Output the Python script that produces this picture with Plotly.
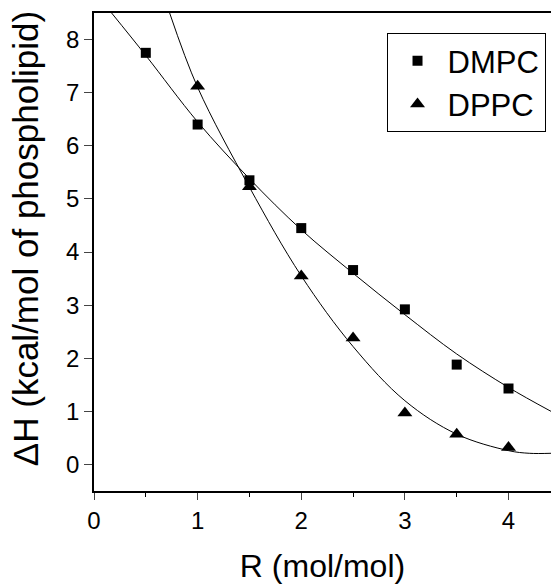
import plotly.graph_objects as go

# Measured data points
dmpc_x = [0.5, 1.0, 1.5, 2.0, 2.5, 3.0, 3.5, 4.0]
dmpc_y = [7.75, 6.40, 5.35, 4.45, 3.66, 2.92, 1.88, 1.43]
dppc_x = [1.0, 1.5, 2.0, 2.5, 3.0, 3.5, 4.0]
dppc_y = [7.12, 5.23, 3.55, 2.38, 0.97, 0.57, 0.32]

# Fitted curves
dmpc_fit_x = [0.17, 0.5, 1.0, 1.5, 2.0, 2.5, 3.0, 3.5, 4.0, 4.41]
dmpc_fit_y = [8.5, 7.70, 6.45, 5.38, 4.42, 3.60, 2.82, 2.08, 1.45, 1.00]
dppc_fit_x = [0.73, 1.0, 1.5, 2.0, 2.5, 3.0, 3.5, 4.0, 4.2, 4.41]
dppc_fit_y = [8.5, 7.10, 5.22, 3.55, 2.22, 1.20, 0.57, 0.26, 0.21, 0.21]

x_ticks = [0, 1, 2, 3, 4]
y_ticks = [0, 1, 2, 3, 4, 5, 6, 7, 8]

FONT = "Liberation Sans, Arial, sans-serif"

fig = go.Figure()
fig.add_trace(go.Scatter(x=dmpc_fit_x, y=dmpc_fit_y, mode="lines", line=dict(color="black", width=1, shape="spline"),
                         showlegend=False, hoverinfo="skip"))
fig.add_trace(go.Scatter(x=dppc_fit_x, y=dppc_fit_y, mode="lines", line=dict(color="black", width=1, shape="spline"),
                         showlegend=False, hoverinfo="skip"))
fig.add_trace(go.Scatter(x=dmpc_x, y=dmpc_y, mode="markers", name="DMPC",
                         marker=dict(symbol="square", size=10, color="black")))
fig.add_trace(go.Scatter(x=dppc_x, y=dppc_y, mode="markers", name="DPPC",
                         marker=dict(symbol="triangle-up", size=13, color="black")))

fig.update_layout(
    width=551, height=584,
    margin=dict(l=94, r=0, t=13, b=93, autoexpand=False),
    plot_bgcolor="white", paper_bgcolor="white",
    font=dict(family=FONT, color="black", size=24),
    legend=dict(x=0.988, xanchor="right", y=0.958, yanchor="top",
                bordercolor="black", borderwidth=1, bgcolor="white",
                font=dict(size=31, family=FONT), itemwidth=50),
    xaxis=dict(range=[0, 4.41], tickvals=x_ticks, ticks="outside", ticklen=7, tickwidth=1,
               minor=dict(dtick=0.5, ticks="outside", ticklen=4, tickwidth=1, tickcolor="black"),
               showline=True, linecolor="black", linewidth=1.5, mirror=True,
               showgrid=False, zeroline=False, tickfont=dict(size=24), automargin=False,
               title=dict(text="R (mol/mol)", font=dict(size=32), standoff=26)),
    yaxis=dict(range=[-0.5, 8.5], tickvals=y_ticks, ticks="outside", ticklen=8, tickwidth=1,
               showline=True, linecolor="black", linewidth=1.5, automargin=False,
               showgrid=False, zeroline=False, tickfont=dict(size=24)),
    annotations=[dict(text="ΔH (kcal/mol of phospholipid)", textangle=-90,
                      xref="paper", yref="paper", x=-0.151, y=0.529,
                      xanchor="center", yanchor="middle", showarrow=False,
                      font=dict(size=35, family=FONT, color="black"))],
)

fig.write_html("out.html", config={"displayModeBar": False},
               post_script="document.body.style.margin='0';document.body.style.overflow='hidden';")
